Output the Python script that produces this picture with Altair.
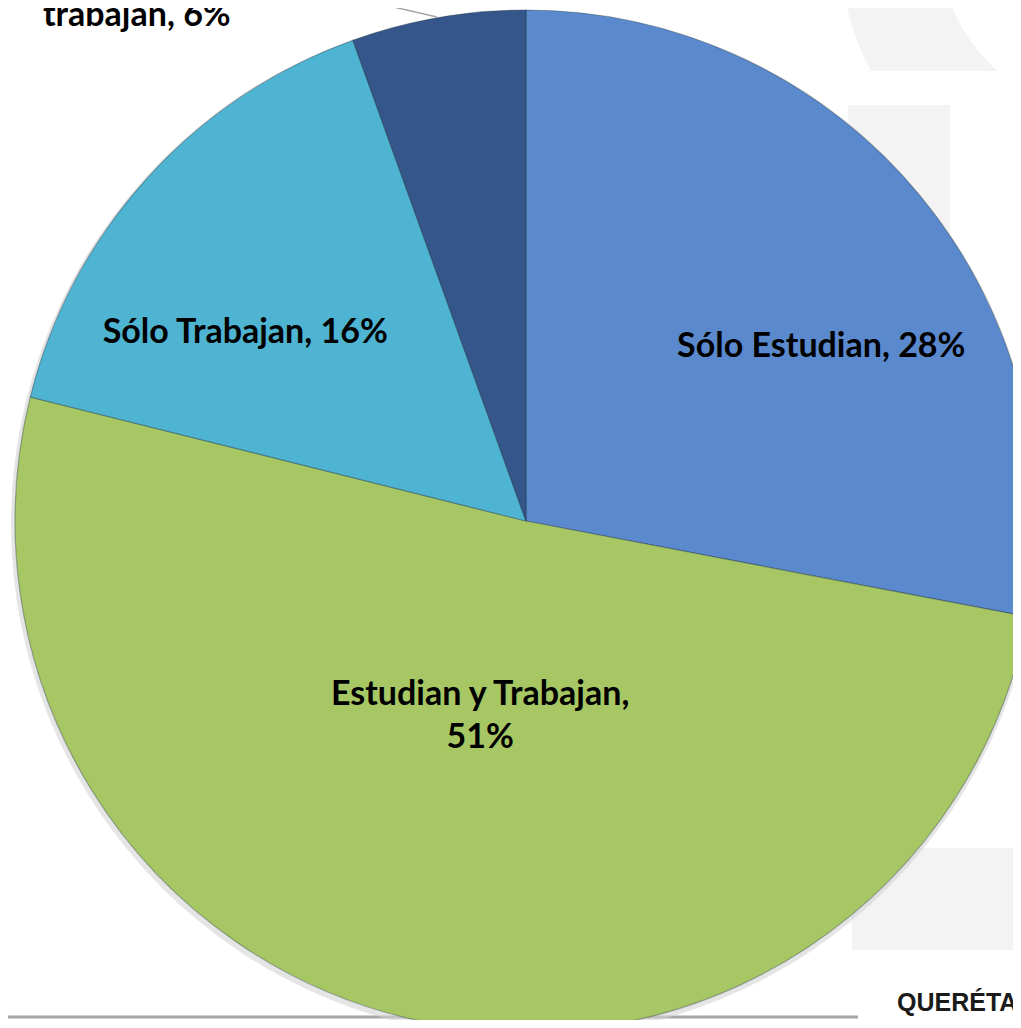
import math
import altair as alt
import pandas as pd

# ---- data ----
categories = ["Sólo Estudian", "Estudian y Trabajan", "Sólo Trabajan", "Ni estudian ni trabajan"]
values = [28.0, 50.9, 15.6, 5.5]
label_texts = ["Sólo Estudian, 28%", "Estudian y Trabajan,\n51%", "Sólo Trabajan, 16%", "Ni estudian ni\ntrabajan, 6%"]
colors = ["#5A8ACD", "#A6C764", "#4EB4D2", "#34568A"]

# ---- layout ----
W, H = 1005, 1012
CX, CY = 518, 513
R = 511
total = sum(values)

df = pd.DataFrame({
    "cat": categories,
    "value": values,
    "order": list(range(len(categories))),
    "label": label_texts,
})
one = pd.DataFrame({"a": [0]})

base = alt.Chart(df)
deco = alt.Chart(one)

# watermark shapes (very light grey)
wm3 = deco.mark_arc(theta=3.8, theta2=5.4, radius=265, radius2=164, color="#f3f3f3").encode(
    x=alt.value(1097), y=alt.value(-61))
wm_gap = deco.mark_rect(color="#ffffff").encode(x=alt.value(800), x2=alt.value(1013), y=alt.value(63), y2=alt.value(400))
wm1 = deco.mark_rect(color="#f3f3f3").encode(x=alt.value(840), x2=alt.value(942), y=alt.value(97), y2=alt.value(400))
wm2 = deco.mark_rect(color="#f3f3f3").encode(x=alt.value(844), x2=alt.value(1013), y=alt.value(840), y2=alt.value(942))

bottom_rule = deco.mark_rule(color="#a6a6a6", strokeWidth=3).encode(
    x=alt.value(-8), x2=alt.value(850), y=alt.value(1009), y2=alt.value(1009))

shadow = deco.mark_arc(theta=0, theta2=2 * math.pi, radius=R + 3, color="#d4d4d4", opacity=0.6).encode(
    x=alt.value(CX - 1), y=alt.value(CY + 3))

pie = base.mark_arc(radius=R, stroke="#1a2a3a", strokeOpacity=0.35, strokeWidth=1.2).encode(
    theta=alt.Theta("value:Q", stack=True),
    color=alt.Color("cat:N", scale=alt.Scale(domain=categories, range=colors), legend=None),
    order=alt.Order("order:Q"),
    x=alt.value(CX),
    y=alt.value(CY),
)

leader = deco.mark_rule(color="#a6a6a6", strokeWidth=1.5).encode(
    x=alt.value(429), y=alt.value(9), x2=alt.value(242), y2=alt.value(-34))

label_cfg = [(330, 41, 46), (190, -5, -2), (330, -36, 43), (600, -286, 53)]
label_layers = []
for i, (r, dx, dy) in enumerate(label_cfg):
    layer = (
        base.transform_window(cum="sum(value)", sort=[alt.SortField("order")], frame=[None, 0])
        .transform_calculate(mid=f"(datum.cum - datum.value/2)/{total}*2*PI")
        .transform_calculate(lx=f"{CX} + {r}*sin(datum.mid)", ly=f"{CY} - {r}*cos(datum.mid)")
        .transform_filter(f"datum.order == {i}")
        .mark_text(dx=dx, dy=dy, font="Lato", fontWeight="bold", fontSize=34,
                   lineBreak="\n", lineHeight=43, align="center", baseline="alphabetic", color="#000000")
        .encode(
            x=alt.X("lx:Q", scale=None, axis=None),
            y=alt.Y("ly:Q", scale=None, axis=None),
            text="label:N",
        )
    )
    label_layers.append(layer)

logo = deco.mark_text(text="QUERÉTARO", font="Liberation Sans", fontWeight="bold", fontSize=25,
                      align="left", baseline="alphabetic", color="#1a1a1a").encode(
    x=alt.value(889), y=alt.value(1003))

chart = alt.layer(wm3, wm_gap, wm1, wm2, bottom_rule, shadow, pie, leader, *label_layers, logo).properties(
    width=W, height=H, padding=0, autosize=alt.AutoSizeParams(type="none"), background="#ffffff"
).configure_view(strokeWidth=0)

chart.save("out.html", embed_options={"renderer": "svg", "actions": False})
